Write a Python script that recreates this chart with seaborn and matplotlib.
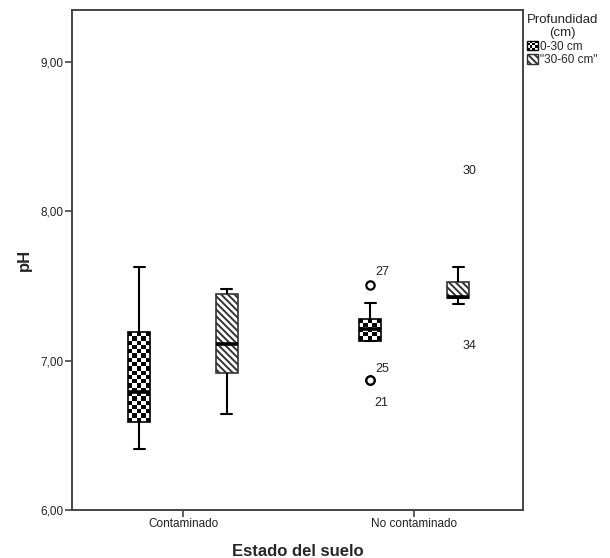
import numpy as np
import pandas as pd
import matplotlib
matplotlib.use("Agg")
import matplotlib.pyplot as plt
import seaborn as sns
from matplotlib.patches import Patch, Rectangle
from matplotlib.legend_handler import HandlerBase

# pH values, one list per soil state / depth
ph_cont_0_30 = [6.41, 6.59, 6.79, 7.19, 7.63]
ph_cont_30_60 = [6.64, 6.92, 7.11, 7.45, 7.48]
ph_nocont_0_30 = [6.87, 6.87, 7.13, 7.13, 7.21, 7.25, 7.28, 7.39, 7.51]
ph_nocont_30_60 = [7.10, 7.38, 7.42, 7.42, 7.43, 7.48, 7.53, 7.63, 8.27]

estados = ["Contaminado", "No contaminado"]
profundidades = ["0-30 cm", '"30-60 cm"']

# case numbers of the outliers, in data order
outlier_cases = {
    ("No contaminado", "0-30 cm"): ["25", "21", "27"],
    ("No contaminado", '"30-60 cm"'): ["34", "30"],
}

ytick_vals = [6, 7, 8, 9]
ytick_labels = ["6,00", "7,00", "8,00", "9,00"]

groups = [
    (estados[0], profundidades[0], ph_cont_0_30),
    (estados[0], profundidades[1], ph_cont_30_60),
    (estados[1], profundidades[0], ph_nocont_0_30),
    (estados[1], profundidades[1], ph_nocont_30_60),
]
df = pd.concat(
    [pd.DataFrame({"estado": e, "prof": p, "ph": v}) for e, p, v in groups],
    ignore_index=True,
)

sns.set_style("white")
plt.rcParams["font.family"] = ["Liberation Sans", "DejaVu Sans"]
plt.rcParams["hatch.linewidth"] = 1.4

fig, ax = plt.subplots(figsize=(6.1, 5.58), dpi=100)
fig.subplots_adjust(left=72 / 610, right=523 / 610, bottom=1 - 510 / 558, top=1 - 10 / 558)

sns.boxplot(
    data=df, x="estado", y="ph", hue="prof",
    order=estados, hue_order=profundidades,
    palette=["white", "white"], linecolor="black", linewidth=1.2,
    width=0.76, gap=0.75, fliersize=6,
    flierprops=dict(marker="o", markerfacecolor="white",
                    markeredgecolor="black", markeredgewidth=1.6),
    medianprops=dict(linewidth=2.6, color="black"),
    whiskerprops=dict(linewidth=1.5),
    capprops=dict(linewidth=1.5),
    legend=False, ax=ax,
)

# hatched boxes for 30-60 cm
hatch = "\\\\\\\\\\"
for box in ax.containers[1].boxes:
    box.set_hatch(hatch)
    box.set_edgecolor("#333333")

ax.set_xlim(-0.48, 1.47)
ax.set_ylim(6, 9.35)

# checkerboard fill for 0-30 cm
cell_px = 4.2
for box in ax.containers[0].boxes:
    bb = box.get_path().get_extents(box.get_transform())
    ncols = max(1, int(round(bb.width / cell_px)))
    nrows = max(1, int(round(bb.height / cell_px)))
    (x0, y0), (x1, y1) = ax.transData.inverted().transform([[bb.x0, bb.y0], [bb.x1, bb.y1]])
    checker = np.indices((nrows, ncols)).sum(axis=0) % 2
    img = ax.imshow(checker, cmap="gray", extent=[x0, x1, y0, y1], aspect="auto",
                    interpolation="nearest", zorder=box.get_zorder() - 0.01)
    img.set_clip_path(box)
    box.set_facecolor("none")

ax.set_xlim(-0.48, 1.47)
ax.set_ylim(6, 9.35)

# outlier labels
label_style = {
    "27": dict(xytext=(3.5, 5), va="bottom"),
    "25": dict(xytext=(3.5, 4), va="bottom"),
    "21": dict(xytext=(3, -12), va="top"),
    "30": dict(xytext=(3, 0), va="center"),
    "34": dict(xytext=(3, 0), va="center"),
}
for hi, prof in enumerate(profundidades):
    for ci, est in enumerate(estados):
        cases = outlier_cases.get((est, prof))
        if not cases:
            continue
        fl = ax.containers[hi].fliers[ci]
        if prof == '"30-60 cm"':
            fl.set_visible(False)
        for x, y, case in zip(fl.get_xdata(), fl.get_ydata(), cases):
            ax.annotate(case, (x, y), textcoords="offset points", ha="left",
                        fontsize=9, color="#222222", **label_style[case])

ax.set_yticks(ytick_vals, ytick_labels)
ax.tick_params(axis="both", direction="out", length=5, width=1.2,
               color="#444444", labelsize=8.5, labelcolor="#222222", pad=1)
ax.tick_params(axis="x", bottom=True)
ax.tick_params(axis="y", left=True)
for sp in ax.spines.values():
    sp.set_visible(True)
    sp.set_color("#444444")
    sp.set_linewidth(1.4)

ax.set_xlabel("Estado del suelo", fontsize=12, fontweight="bold", labelpad=10)
ax.set_ylabel("pH", fontsize=12, fontweight="bold", labelpad=6)


class HandlerChecker(HandlerBase):
    def create_artists(self, legend, orig_handle, xdescent, ydescent,
                       width, height, fontsize, trans):
        n = 4
        cw, ch = width / n, height / n
        arts = []
        for i in range(n):
            for j in range(n):
                if (i + j) % 2 == 0:
                    arts.append(Rectangle((-xdescent + i * cw, -ydescent + j * ch), cw, ch,
                                          facecolor="black", edgecolor="none", transform=trans))
        arts.append(Rectangle((-xdescent, -ydescent), width, height, facecolor="none",
                              edgecolor="black", linewidth=1.0, transform=trans))
        return arts


handles = [
    Patch(facecolor="white", edgecolor="black"),
    Patch(facecolor="white", edgecolor="#333333", hatch=hatch),
]
leg = ax.legend(
    handles, profundidades, title="Profundidad\n(cm)",
    handler_map={handles[0]: HandlerChecker()},
    loc="upper left", bbox_to_anchor=(1.0, 1.0), borderaxespad=0.2,
    frameon=False, fontsize=8.5, title_fontsize=9.5,
    handlelength=0.9, handleheight=0.9, handletextpad=0.2,
    labelspacing=0.1, borderpad=0.1,
)
leg.get_title().set_multialignment("center")

fig.savefig("out.png", dpi=100, facecolor="white")
